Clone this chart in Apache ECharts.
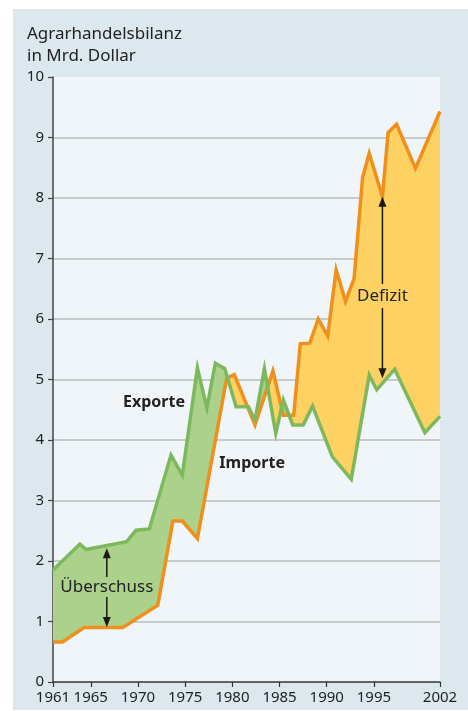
<!DOCTYPE html>
<html>
<head>
<meta charset="utf-8">
<script src="https://cdn.jsdelivr.net/npm/echarts@6.0.0/dist/echarts.min.js"></script>
<style>
html,body{margin:0;padding:0;background:#ffffff;width:468px;height:711px;overflow:hidden;}
#panel{position:absolute;left:13px;top:9px;width:455px;height:701px;background:#dce8ed;}
#chart{position:absolute;left:0;top:0;width:468px;height:711px;}
</style>
</head>
<body>
<div id="panel"></div>
<div id="chart"></div>
<script>
// ---- Data ----
const exportYears  = [1961.0, 1963.85, 1964.5, 1968.8, 1969.8, 1971.2, 1973.5, 1974.7, 1976.3, 1977.3, 1978.2, 1979.2, 1980.4, 1981.7, 1982.4, 1983.4, 1984.6, 1985.4, 1986.4, 1987.5, 1988.5, 1990.6, 1992.6, 1994.5, 1995.3, 1997.2, 2000.4, 2002.0];
const exportValues = [1.85, 2.28, 2.19, 2.32, 2.51, 2.53, 3.75, 3.42, 5.19, 4.53, 5.27, 5.18, 4.55, 4.55, 4.33, 5.18, 4.11, 4.66, 4.25, 4.25, 4.56, 3.72, 3.35, 5.07, 4.83, 5.17, 4.12, 4.39];

const importYears  = [1961.0, 1962.0, 1964.3, 1968.4, 1972.1, 1973.7, 1974.7, 1976.3, 1979.4, 1980.2, 1982.4, 1984.3, 1985.4, 1986.5, 1987.2, 1988.2, 1989.1, 1990.1, 1991.0, 1992.0, 1992.9, 1993.8, 1994.5, 1995.9, 1996.5, 1997.4, 1999.4, 2002.0];
const importValues = [0.66, 0.66, 0.90, 0.90, 1.27, 2.66, 2.66, 2.37, 5.02, 5.08, 4.25, 5.14, 4.41, 4.41, 5.59, 5.60, 6.00, 5.72, 6.81, 6.29, 6.67, 8.34, 8.74, 8.02, 9.08, 9.22, 8.49, 9.43];

const xTickLabels = [1961, 1965, 1970, 1975, 1980, 1985, 1990, 1995, 2002];
const yTickLabels = [0, 1, 2, 3, 4, 5, 6, 7, 8, 9, 10];

const titleText = 'Agrarhandelsbilanz\nin Mrd. Dollar';
const seriesNames = ['Exporte', 'Importe'];
const seriesLabelYears  = [1971.7, 1982.1];
const seriesLabelValues = [4.62, 3.61];

const arrowLabels      = ['Überschuss', 'Defizit'];
const arrowYears       = [1966.7, 1995.9];
const arrowTopValues   = [2.21, 8.02];
const arrowBottomValues= [0.91, 5.02];
const arrowLabelValues = [1.57, 6.38];

// ---- Styles ----
const GREEN_LINE = '#7db95c';
const GREEN_FILL = '#acd18b';
const ORANGE_LINE = '#f0901c';
const YELLOW_FILL = '#fed163';
const FONT = '"Noto Sans", "Open Sans", sans-serif';

function intersect(p1, p2, p3, p4) {
  const d = (p2[0]-p1[0])*(p4[1]-p3[1]) - (p2[1]-p1[1])*(p4[0]-p3[0]);
  if (Math.abs(d) < 1e-9) return null;
  const t = ((p3[0]-p1[0])*(p4[1]-p3[1]) - (p3[1]-p1[1])*(p4[0]-p3[0])) / d;
  const u = ((p3[0]-p1[0])*(p2[1]-p1[1]) - (p3[1]-p1[1])*(p2[0]-p1[0])) / d;
  if (t >= 0 && t < 1 && u >= 0 && u < 1) {
    return [p1[0] + t*(p2[0]-p1[0]), p1[1] + t*(p2[1]-p1[1])];
  }
  return null;
}

function renderFill(params, api) {
  const E = exportYears.map((x, i) => api.coord([x, exportValues[i]]));
  const I = importYears.map((x, i) => api.coord([x, importValues[i]]));
  const cross = [];
  for (let a = 0; a < E.length - 1; a++) {
    for (let b = 0; b < I.length - 1; b++) {
      const p = intersect(E[a], E[a+1], I[b], I[b+1]);
      if (p) cross.push(p);
    }
  }
  cross.sort((p, q) => p[0] - q[0]);
  const bounds = [{e: E[0], i: I[0]}]
    .concat(cross.map(p => ({e: p, i: p})))
    .concat([{e: E[E.length-1], i: I[I.length-1]}]);
  const children = [];
  for (let k = 0; k < bounds.length - 1; k++) {
    const xa = bounds[k].e[0], xb = bounds[k+1].e[0];
    const ep = [bounds[k].e];
    E.forEach(p => { if (p[0] > xa && p[0] < xb) ep.push(p); });
    ep.push(bounds[k+1].e);
    const ip = [bounds[k].i];
    I.forEach(p => { if (p[0] > xa && p[0] < xb) ip.push(p); });
    ip.push(bounds[k+1].i);
    const poly = ep.concat(ip.reverse());
    let s = 0;
    for (let j = 0; j < poly.length; j++) {
      const p = poly[j], q = poly[(j+1) % poly.length];
      s += p[0]*q[1] - q[0]*p[1];
    }
    children.push({
      type: 'polygon',
      shape: {points: poly},
      style: {fill: s > 0 ? GREEN_FILL : YELLOW_FILL, stroke: s > 0 ? GREEN_FILL : YELLOW_FILL, lineWidth: 0.5},
      silent: true
    });
  }
  return {type: 'group', children: children};
}

function renderAnnotations(params, api) {
  const children = [];
  const gaps = [10, 12];
  for (let i = 0; i < arrowLabels.length; i++) {
    const T = api.coord([arrowYears[i], arrowTopValues[i]]);
    const B = api.coord([arrowYears[i], arrowBottomValues[i]]);
    const C = api.coord([arrowYears[i], arrowLabelValues[i]]);
    const x = T[0];
    const head = 10, hw = 4;
    children.push({type: 'line', shape: {x1: x, y1: T[1] + head - 1, x2: x, y2: C[1] - gaps[i]}, style: {stroke: '#1a1a1a', lineWidth: 1.5}, silent: true});
    children.push({type: 'line', shape: {x1: x, y1: C[1] + gaps[i], x2: x, y2: B[1] - head + 1}, style: {stroke: '#1a1a1a', lineWidth: 1.5}, silent: true});
    children.push({type: 'polygon', shape: {points: [[x, T[1]], [x - hw, T[1] + head], [x + hw, T[1] + head]]}, style: {fill: '#1a1a1a'}, silent: true});
    children.push({type: 'polygon', shape: {points: [[x, B[1]], [x - hw, B[1] - head], [x + hw, B[1] - head]]}, style: {fill: '#1a1a1a'}, silent: true});
    children.push({type: 'text', x: C[0], y: C[1], style: {text: arrowLabels[i], x: 0, y: 0, fill: '#222', font: '17px ' + FONT, align: 'center', verticalAlign: 'middle', textAlign: 'center', textVerticalAlign: 'middle'}, silent: true});
  }
  for (let i = 0; i < seriesNames.length; i++) {
    const P = api.coord([seriesLabelYears[i], seriesLabelValues[i]]);
    children.push({type: 'text', x: P[0], y: P[1], style: {text: seriesNames[i], x: 0, y: 0, fill: '#222', font: 'bold 16px ' + FONT, align: 'center', verticalAlign: 'middle', textAlign: 'center', textVerticalAlign: 'middle'}, silent: true});
  }
  return {type: 'group', children: children};
}

const chart = echarts.init(document.getElementById('chart'), null, {renderer: 'canvas'});
chart.setOption({
  backgroundColor: 'transparent',
  animation: false,
  grid: {left: 53, right: 28, top: 77, bottom: 29, show: true, backgroundColor: '#eff5f8', borderWidth: 0},
  graphic: [{
    type: 'text', left: 27, top: 23,
    style: {text: titleText, font: '17px ' + FONT, fill: '#222', lineHeight: 22}
  }],
  xAxis: {
    type: 'value', min: 1961, max: 2002,
    axisLine: {show: true, lineStyle: {color: '#333', width: 1.5}},
    axisTick: {show: true, length: 5, lineStyle: {color: '#333', width: 1.2}, customValues: xTickLabels},
    axisLabel: {color: '#222', fontSize: 15, fontFamily: FONT, margin: 8, customValues: xTickLabels, formatter: v => String(v)},
    splitLine: {show: false}
  },
  yAxis: {
    type: 'value', min: 0, max: 10, interval: 1,
    axisLine: {show: true, lineStyle: {color: '#444', width: 1.5}},
    axisTick: {show: true, length: 5, lineStyle: {color: '#444', width: 1.2}},
    axisLabel: {color: '#222', fontSize: 15, fontFamily: FONT, margin: 9, formatter: v => String(v)},
    splitLine: {show: true, showMinLine: false, showMaxLine: false, lineStyle: {color: '#b8bcbe', width: 1.5}}
  },
  series: [
    {type: 'custom', name: 'fill', z: 1, clip: true, data: [[1961, 0]], encode: {x: 0, y: 1}, renderItem: renderFill, silent: true},
    {type: 'line', name: 'Importe', z: 3, symbol: 'none', data: importYears.map((x, i) => [x, importValues[i]]), lineStyle: {color: ORANGE_LINE, width: 3.5, join: 'miter'}, itemStyle: {color: ORANGE_LINE}, silent: true},
    {type: 'line', name: 'Exporte', z: 4, symbol: 'none', data: exportYears.map((x, i) => [x, exportValues[i]]), lineStyle: {color: GREEN_LINE, width: 3.5, join: 'miter'}, itemStyle: {color: GREEN_LINE}, silent: true},
    {type: 'custom', name: 'annotations', z: 5, clip: false, data: [[1961, 0]], encode: {x: 0, y: 1}, renderItem: renderAnnotations, silent: true}
  ]
});
</script>
</body>
</html>
